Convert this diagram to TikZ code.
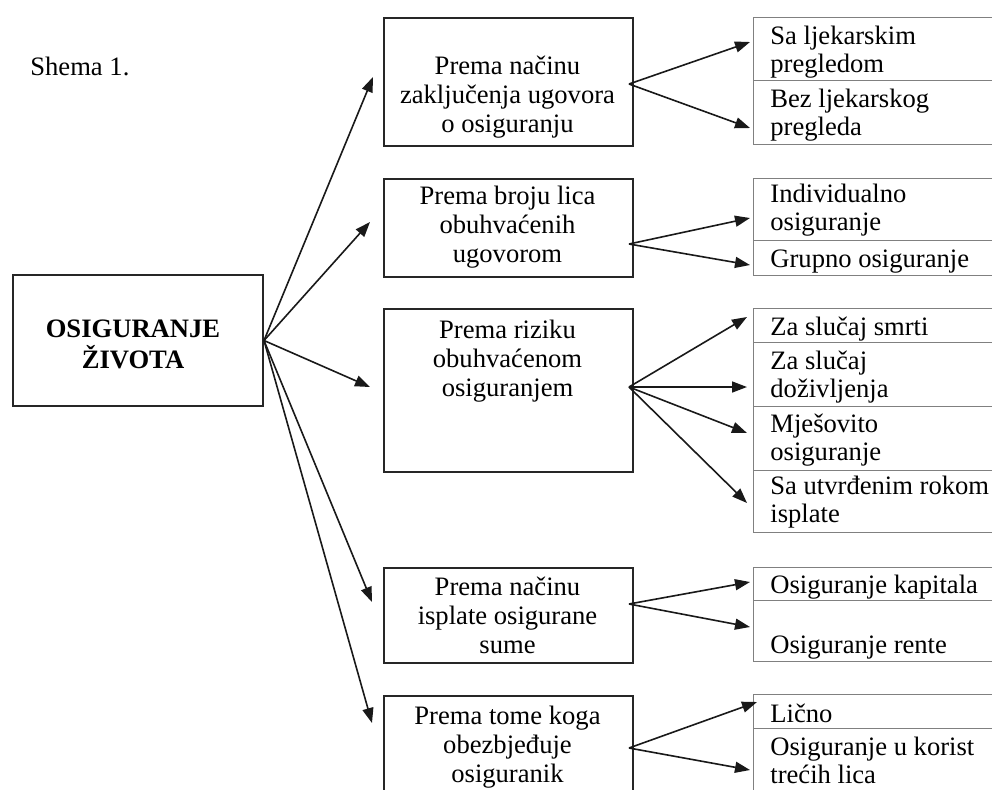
\documentclass[tikz,border=0pt]{standalone}
\usepackage{fontspec}
\setmainfont{Liberation Serif}
\usetikzlibrary{positioning,arrows.meta,calc}
\tikzset{
  mainbox/.style={draw=black!85,line width=1pt,minimum width=125pt,
            minimum height=65.5pt,inner sep=0pt},
  catbox/.style={draw=black!85,line width=1pt,minimum width=124.5pt,
            inner sep=0pt,anchor=north west},
  itembox/.style={draw=black!50,line width=0.6pt,minimum width=130pt,
            inner sep=0pt,anchor=north west},
  cattext/.style={align=center,inner sep=0pt,anchor=base,
            font=\fontsize{13.3}{14.5}\selectfont},
  itemtext/.style={align=left,inner sep=0pt,anchor=base west,
            font=\fontsize{13.3}{14}\selectfont},
  link/.style={-{Triangle[length=7.5pt,width=5.5pt]},line width=0.8pt,black!90},
}

\begin{document}
\begin{tikzpicture}[x=0.5pt,y=-0.5pt]
  \useasboundingbox (0,0) rectangle (992,789);
  \clip (0,0) rectangle (992,789);
  % --- title and root ---
  \node[anchor=base west,inner sep=0pt,font=\fontsize{13.3}{14}\selectfont]
       (title) at (30,75) {Shema 1.};
  \node[mainbox] (root) at (138,340.5) {};
  \node[align=center,inner sep=0pt,anchor=base,
        font=\fontsize{13.3}{15.5}\selectfont\bfseries]
       (rootlab) at (133,368) {OSIGURANJE\\ŽIVOTA};
  % --- category boxes (text placed by its last baseline) ---
  \foreach \n/\t/\h in {1/17/64,2/178/49,3/308/81.5,4/567/47.5,5/695/60}
    \node[catbox,minimum height=\h pt] (m\n) at (383,\t) {};
  \foreach \n/\y/\txt in {1/132/{Prema načinu\\zaključenja ugovora\\o osiguranju},
                          2/262/{Prema broju lica\\obuhvaćenih\\ugovorom},
                          3/396/{Prema riziku\\obuhvaćenom\\osiguranjem},
                          4/653/{Prema načinu\\isplate osigurane\\sume},
                          5/782/{Prema tome koga\\obezbjeđuje\\osiguranik}}
    \node[cattext] (c\n) at (507.5,\y) {\txt};
  % --- item cells (right column) ---
  \foreach \t/\b/\y/\txt [count=\i] in {17/80/72/{Sa ljekarskim\\pregledom},
                          80/144/135/{Bez ljekarskog\\pregleda},
                          178/240/230/{Individualno\\osiguranje},
                          240/275/267/{Grupno osiguranje},
                          308/342/335/{Za slučaj smrti},
                          342/406/397/{Za slučaj\\doživljenja},
                          406/470/460/{Mješovito\\osiguranje},
                          470/532/522/{Sa utvrđenim rokom\\isplate},
                          567/600/593/{Osiguranje kapitala},
                          600/661/653/{Osiguranje rente},
                          694/728/722/{Lično},
                          728/810/783/{Osiguranje u korist\\trećih lica}} {
    \pgfmathsetmacro\h{(\b-\t)*0.5}
    \node[itembox,minimum height=\h pt] (r\i) at (753,\t) {};
    \node[itemtext] (s\i) at (770,\y) {\txt};
  }
  % --- arrows from the root ---
  \foreach \n/\x/\y in {1/373/77,2/370/222,3/370/387,4/372/602,5/372/723}
    \coordinate (a\n) at (\x,\y);
  \foreach \n in {1,...,5}
    \draw[link] (root.east) -- (a\n);
  % --- arrows from the categories ---
  \foreach \n/\y in {1/84,2/244,3/387,4/604,5/748}
    \coordinate (o\n) at (629,\y);
  \foreach \i/\n/\x/\y in {1/1/750/42,2/1/750/128,3/2/750/218,4/2/750/265,
                           5/3/747/317,6/3/747/387,7/3/747/433,8/3/747/503,
                           9/4/750/582,10/4/750/627,11/5/757/702,12/5/750/770} {
    \coordinate (e\i) at (\x,\y);
    \draw[link] (o\n) -- (e\i);
  }
\end{tikzpicture}
\end{document}
